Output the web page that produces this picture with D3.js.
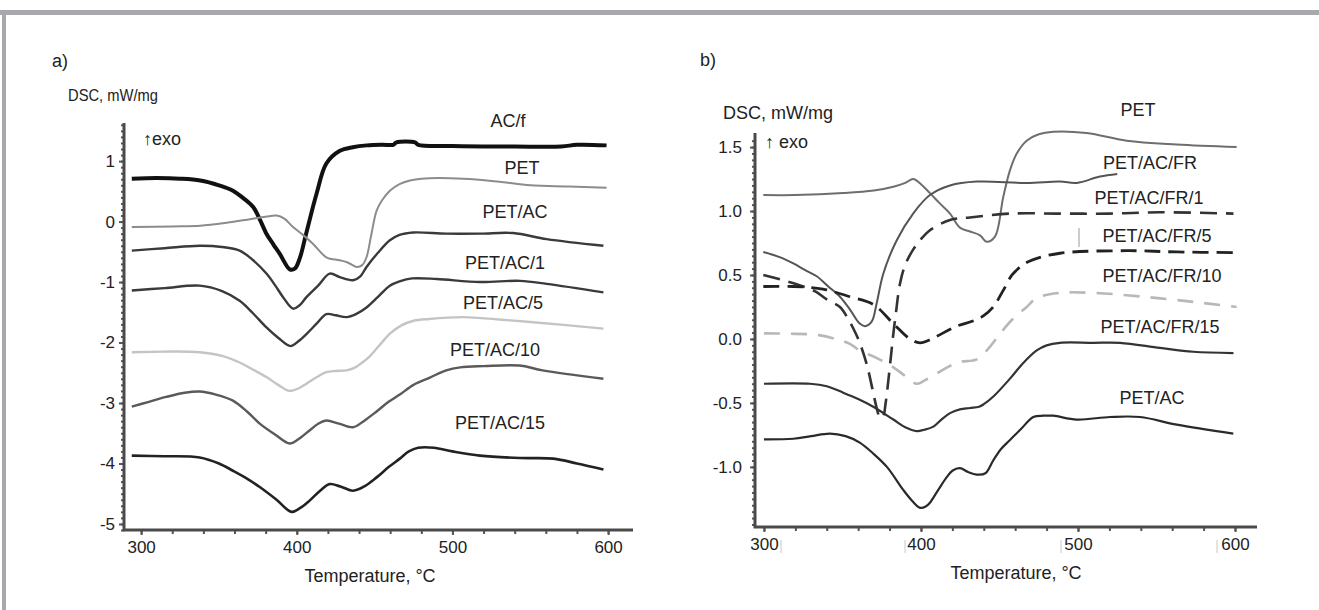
<!DOCTYPE html>
<html>
<head>
<meta charset="utf-8">
<script src="https://cdn.jsdelivr.net/npm/d3@7"></script>
<style>
  body { margin: 0; background: #fff; }
  svg { display: block; font-family: "Liberation Sans", Arial, sans-serif; }
</style>
</head>
<body>
<svg id="chart" width="1319" height="610"></svg>
<script>
// ---- panel a) data: [temperature °C, DSC mW/mg] ----
const acF = [[294,0.71],[310,0.72],[325,0.71],[338,0.68],[350,0.6],[359,0.51],[366,0.38],[372,0.24],[376,0.05],[380.5,-0.2],[385,-0.38],[389,-0.53],[395.5,-0.79],[398.7,-0.78],[402,-0.6],[406,-0.2],[412.7,0.46],[419,0.96],[427.7,1.17],[436,1.23],[445,1.26],[455,1.27],[462,1.27],[464,1.31],[476,1.31],[478,1.27],[500,1.25],[540,1.24],[570,1.24],[580,1.27],[599,1.26]];
const petA = [[294,-0.09],[320,-0.08],[338,-0.07],[355,-0.02],[370,0.04],[380,0.08],[387,0.1],[392,0.05],[397.6,-0.09],[404,-0.22],[410.5,-0.37],[419,-0.59],[427.7,-0.64],[433,-0.68],[438.4,-0.75],[442,-0.72],[444.8,-0.59],[448,-0.2],[451.3,0.18],[455,0.36],[459.8,0.51],[466,0.62],[472.7,0.68],[480,0.71],[507,0.71],[530,0.66],[550,0.6],[575,0.58],[599,0.56]];
const petAcA = [[294,-0.48],[315,-0.44],[337.6,-0.4],[352,-0.42],[363.3,-0.48],[372,-0.64],[380.5,-0.86],[386,-1.05],[391.2,-1.25],[397.6,-1.44],[402,-1.38],[406.2,-1.25],[414,-1.05],[421.2,-0.86],[427.7,-0.92],[436.2,-0.97],[441,-0.9],[444.8,-0.75],[452,-0.52],[459.8,-0.31],[466,-0.22],[474.8,-0.18],[496,-0.2],[518,-0.2],[539,-0.19],[560.6,-0.29],[597,-0.4]];
const petAc1 = [[294,-1.14],[315,-1.1],[337.6,-1.06],[352,-1.15],[363.3,-1.31],[372,-1.52],[380.5,-1.75],[388,-1.92],[396,-2.06],[401,-1.98],[406.2,-1.86],[413,-1.68],[419,-1.53],[425,-1.55],[432,-1.58],[438,-1.53],[444.8,-1.42],[452,-1.25],[459.8,-1.06],[466,-0.99],[474,-0.94],[490,-0.95],[517.7,-1.0],[543.4,-0.98],[560.6,-1.03],[597,-1.17]];
const petAc5 = [[294,-2.16],[315,-2.15],[337.6,-2.16],[352,-2.22],[363.3,-2.33],[372,-2.45],[380.5,-2.57],[388,-2.7],[395.5,-2.8],[401,-2.76],[406.2,-2.68],[413,-2.57],[419,-2.49],[425,-2.47],[432,-2.46],[437,-2.42],[441,-2.35],[446,-2.25],[453,-2.05],[460,-1.85],[467,-1.72],[475,-1.64],[485,-1.61],[507,-1.58],[530,-1.62],[550,-1.66],[597,-1.77]];
const petAc10 = [[294,-3.06],[305,-2.98],[316,-2.9],[328,-2.83],[337.6,-2.81],[348,-2.86],[359,-2.96],[368,-3.14],[376.2,-3.34],[386,-3.52],[395.5,-3.67],[401,-3.6],[408.4,-3.45],[414,-3.34],[419,-3.29],[427,-3.34],[436.2,-3.4],[443,-3.3],[451.3,-3.14],[459,-2.98],[466.2,-2.86],[475,-2.7],[485.5,-2.58],[496,-2.46],[505,-2.41],[520,-2.39],[543,-2.38],[558,-2.46],[597,-2.6]];
const petAc15 = [[294,-3.87],[315,-3.88],[337.6,-3.9],[350,-4.0],[359,-4.12],[368,-4.25],[376.2,-4.39],[387,-4.6],[396.6,-4.8],[402,-4.74],[408.4,-4.61],[415,-4.45],[421.2,-4.34],[428,-4.38],[436.2,-4.45],[444,-4.37],[451.3,-4.23],[459,-4.06],[466.2,-3.92],[472,-3.8],[478,-3.74],[488,-3.74],[500,-3.8],[517.7,-3.87],[543.4,-3.91],[564.8,-3.92],[580,-4.0],[597,-4.1]];

// ---- panel b) data ----
const petB = [[299.6,1.125],[320,1.125],[350.5,1.14],[370,1.16],[382.4,1.19],[390,1.22],[395,1.25],[400,1.21],[405.7,1.14],[412,1.06],[418.5,0.98],[424.8,0.87],[431.2,0.84],[437.6,0.81],[441.8,0.76],[447.1,0.8],[452.4,1.11],[456.7,1.32],[461,1.45],[467.3,1.55],[475,1.6],[484.3,1.62],[505.5,1.61],[531,1.55],[562.9,1.52],[601,1.5]];
const petAcFr = [[299.6,0.68],[310,0.64],[318.7,0.59],[326,0.54],[333.6,0.49],[341,0.41],[348.4,0.33],[354.8,0.23],[361,0.12],[364.3,0.1],[368.6,0.135],[371.8,0.28],[376,0.51],[384.5,0.77],[395,0.98],[405.7,1.125],[418.5,1.2],[435.5,1.23],[467.3,1.22],[488.5,1.23],[499.2,1.22],[514,1.27],[525,1.29]];
const petAcFr1 = [[299.6,0.5],[312,0.46],[325,0.41],[333,0.37],[340,0.31],[348.4,0.25],[353,0.17],[357,0.08],[361,-0.03],[365.5,-0.2],[369.6,-0.42],[372,-0.55],[374,-0.62],[376,-0.6],[377.5,-0.5],[379,-0.35],[381,-0.12],[382.4,0.04],[384,0.2],[386.6,0.43],[390,0.58],[395.1,0.7],[400,0.78],[405.7,0.85],[418.5,0.93],[431.2,0.95],[456.7,0.98],[488.5,0.98],[520,0.98],[552,0.99],[599,0.98]];
const petAcFr5 = [[299.6,0.41],[318.7,0.41],[337.6,0.39],[354.8,0.33],[369.6,0.27],[382.4,0.12],[393,0.0],[399.4,-0.03],[405,-0.01],[410,0.02],[422.7,0.1],[433,0.14],[439.7,0.18],[446,0.25],[452.4,0.38],[458,0.5],[465,0.58],[471.5,0.62],[488.5,0.67],[531,0.69],[563,0.68],[601,0.675]];
const petAcFr10 = [[300,0.044],[320,0.04],[335,0.03],[348.4,-0.01],[355,-0.04],[361,-0.09],[372,-0.15],[382.2,-0.22],[390,-0.29],[397.3,-0.35],[403,-0.32],[410,-0.27],[417,-0.22],[424.8,-0.18],[435.5,-0.16],[444,-0.06],[450.3,0.04],[458,0.15],[467.3,0.25],[473.7,0.32],[488.5,0.36],[509.7,0.36],[541.6,0.33],[573.4,0.29],[601,0.25]];
const petAcFr15 = [[300,-0.35],[329.3,-0.35],[340,-0.37],[350.5,-0.42],[360,-0.47],[369.6,-0.53],[382.4,-0.63],[390,-0.69],[397.3,-0.72],[402,-0.71],[407.9,-0.685],[413,-0.63],[418.5,-0.58],[424.8,-0.55],[431.2,-0.54],[437,-0.53],[440,-0.51],[446.1,-0.45],[456.7,-0.31],[465,-0.19],[473.7,-0.09],[480,-0.05],[488.5,-0.03],[509.7,-0.03],[526.8,-0.03],[552.2,-0.07],[573.4,-0.1],[599,-0.11]];
const petAcB = [[300,-0.785],[318.7,-0.78],[330,-0.76],[342,-0.74],[352,-0.76],[361,-0.81],[370,-0.9],[378.3,-1.0],[388.7,-1.18],[394,-1.26],[399.4,-1.32],[403,-1.31],[405.7,-1.28],[411,-1.18],[416.4,-1.08],[420,-1.03],[424.8,-1.01],[430,-1.04],[435.5,-1.06],[441,-1.05],[446,-0.95],[451,-0.86],[456.7,-0.79],[464,-0.7],[471.5,-0.61],[478,-0.6],[484.3,-0.6],[499.2,-0.63],[520.4,-0.61],[539.5,-0.61],[562.9,-0.67],[598.9,-0.74]];

// tick values
const xTicks = [300, 400, 500, 600];
const yTicksA = [-5, -4, -3, -2, -1, 0, 1];
const yTicksB = [-1.0, -0.5, 0.0, 0.5, 1.0, 1.5];

const svg = d3.select("#chart");

// grey frame (top and left edge)
svg.append("line").attr("x1", 0).attr("x2", 1319).attr("y1", 12.5).attr("y2", 12.5)
  .style("stroke", "#a7a9ac").style("stroke-width", 5);
svg.append("line").attr("x1", 4).attr("x2", 4).attr("y1", 10).attr("y2", 610)
  .style("stroke", "#a7a9ac").style("stroke-width", 4);

const textCol = "#222";

// draws one panel: axes, ticks, curves and labels
const drawPanel = (p) => {
  const x = d3.scaleLinear().domain(p.xDomain).range(p.xRange);
  const y = d3.scaleLinear().domain(p.yDomain).range(p.yRange);
  const g = svg.append("g");

  // minor ticks
  g.append("g").attr("transform", `translate(${p.xRange[0]},0)`)
    .call(d3.axisLeft(y).tickValues(d3.range(p.yMinor[0], p.yMinor[1], p.yMinor[2])).tickSize(3).tickFormat(""))
    .call((s) => s.select(".domain").remove())
    .selectAll("line").style("stroke", "#555").style("stroke-width", 2);
  g.append("g").attr("transform", `translate(0,${p.yRange[0]})`)
    .call(d3.axisBottom(x).tickValues(d3.range(300, 601, 20)).tickSize(4).tickFormat(""))
    .call((s) => s.select(".domain").remove())
    .selectAll("line").style("stroke", "#555").style("stroke-width", 2);

  // y axis
  const ya = g.append("g").attr("transform", `translate(${p.xRange[0]},0)`)
    .call(d3.axisLeft(y).tickValues(p.yTicks).tickSize(5).tickPadding(p.yPad).tickFormat(p.yFmt));
  ya.select(".domain").remove();
  ya.selectAll("line").style("stroke", "#555").style("stroke-width", 2);
  ya.selectAll("text").style("font-size", "17px").style("fill", textCol);

  // x axis
  const xa = g.append("g").attr("transform", `translate(0,${p.yRange[0]})`)
    .call(d3.axisBottom(x).tickValues(xTicks).tickSize(5).tickPadding(6).tickFormat(d3.format("d")));
  xa.select(".domain").remove();
  xa.selectAll("line").style("stroke", "#555").style("stroke-width", 2);
  xa.selectAll("text").style("font-size", "17px").style("fill", textCol);

  // axis lines
  g.append("path")
    .attr("d", `M${p.xRange[0]},${p.yRange[1]}V${p.yRange[0]}H${p.xRange[1]}`)
    .style("fill", "none").style("stroke", "#4a4a4a").style("stroke-width", 3);

  // curves
  const line = d3.line().x((d) => x(d[0])).y((d) => y(d[1])).curve(d3.curveCatmullRom.alpha(0.5));
  p.series.forEach((s) => {
    g.append("path").datum(s.data).attr("d", line)
      .style("fill", "none").style("stroke", s.color).style("stroke-width", s.width)
      .style("stroke-dasharray", s.dash || null).style("stroke-linejoin", "round");
    g.append("text").attr("x", s.lx).attr("y", s.ly).attr("text-anchor", "middle")
      .style("font-size", "18px").style("fill", textCol).text(s.name);
  });

  // titles
  g.append("text").attr("x", p.tag[0]).attr("y", p.tag[1]).style("font-size", "18px").style("fill", textCol).text(p.tag[2]);
  const unit = g.append("text").attr("x", p.unit[0]).attr("y", p.unit[1]).style("font-size", p.unit[2]).style("fill", textCol).text("DSC, mW/mg");
  if (p.unit[3]) unit.attr("textLength", p.unit[3]).attr("lengthAdjust", "spacingAndGlyphs");
  g.append("text").attr("x", p.exo[0]).attr("y", p.exo[1]).style("font-size", "18px").style("fill", textCol).text(p.exo[2]);
  g.append("text").attr("x", p.xTitle[0]).attr("y", p.xTitle[1]).attr("text-anchor", "middle")
    .style("font-size", "18px").style("fill", textCol).text("Temperature, °C");
  return g;
};

// panel a)
drawPanel({
  xDomain: [289, 616], xRange: [124, 633],
  yDomain: [-5.1, 1.63], yRange: [530, 123],
  yTicks: yTicksA, yFmt: (d) => String(d), yPad: 4, yMinor: [-5.1, 1.62, 0.1],
  tag: [52, 67, "a)"], unit: [68, 101, "17px", 90], exo: [143, 145, "↑exo"], xTitle: [370, 582],
  series: [
    { name: "AC/f", data: acF, color: "#111", width: 4, lx: 508, ly: 127 },
    { name: "PET", data: petA, color: "#8c8c8c", width: 2, lx: 522, ly: 174 },
    { name: "PET/AC", data: petAcA, color: "#3a3a3a", width: 2.4, lx: 515, ly: 218 },
    { name: "PET/AC/1", data: petAc1, color: "#3a3a3a", width: 2.4, lx: 505, ly: 269 },
    { name: "PET/AC/5", data: petAc5, color: "#c4c4c4", width: 2.4, lx: 503, ly: 309 },
    { name: "PET/AC/10", data: petAc10, color: "#5a5a5a", width: 2.4, lx: 495, ly: 356 },
    { name: "PET/AC/15", data: petAc15, color: "#222", width: 2.6, lx: 500, ly: 429 }
  ]
});

// panel b)
const gb = drawPanel({
  xDomain: [294.3, 614], xRange: [755, 1257],
  yDomain: [-1.47, 1.61], yRange: [527, 133],
  yTicks: yTicksB, yFmt: (d) => d.toFixed(1), yPad: 8, yMinor: [-1.45, 1.6, 0.05],
  tag: [700, 66, "b)"], unit: [723, 119, "18px"], exo: [765, 148, "↑ exo"], xTitle: [1016, 579],
  series: [
    { name: "PET", data: petB, color: "#6e6e6e", width: 2, lx: 1138, ly: 116 },
    { name: "PET/AC/FR", data: petAcFr, color: "#555", width: 2, lx: 1150, ly: 169 },
    { name: "PET/AC/FR/1", data: petAcFr1, color: "#333", width: 2.6, dash: "17,9", lx: 1149, ly: 204 },
    { name: "PET/AC/FR/5", data: petAcFr5, color: "#222", width: 2.8, dash: "16,8", lx: 1157, ly: 242 },
    { name: "PET/AC/FR/10", data: petAcFr10, color: "#b8b8b8", width: 2.6, dash: "16,11", lx: 1162, ly: 282 },
    { name: "PET/AC/FR/15", data: petAcFr15, color: "#333", width: 2.2, lx: 1160, ly: 333 },
    { name: "PET/AC", data: petAcB, color: "#2a2a2a", width: 2.2, lx: 1152, ly: 404 }
  ]
});

// small scan marks beside the tick labels of panel b)
[781, 905, 1061, 1217].forEach((mx) => {
  gb.append("line").attr("x1", mx).attr("x2", mx).attr("y1", 540).attr("y2", 553)
    .style("stroke", "#c8c8c8").style("stroke-width", 1);
});
gb.append("line").attr("x1", 1079).attr("x2", 1079).attr("y1", 228).attr("y2", 247)
  .style("stroke", "#999").style("stroke-width", 1);
</script>
</body>
</html>
